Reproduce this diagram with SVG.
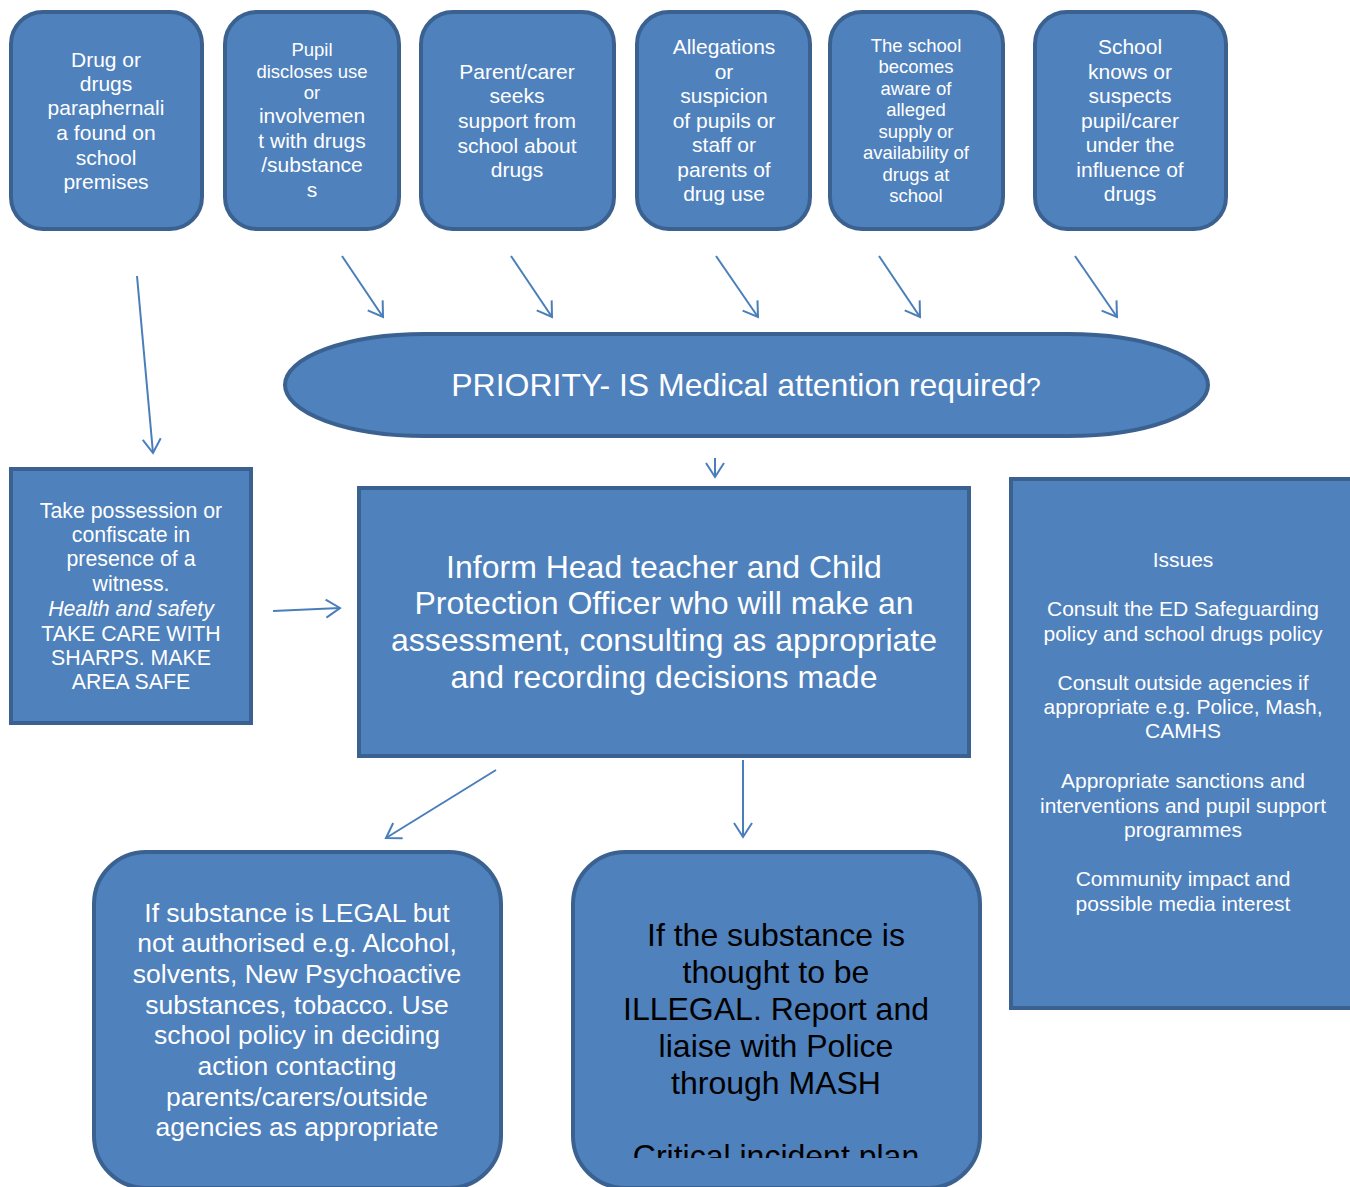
<svg xmlns="http://www.w3.org/2000/svg" width="1350" height="1187" viewBox="0 0 1350 1187">
<style>
.box{fill:#4F81BD;stroke:#3A6190;stroke-width:4}
.t{font-family:"Liberation Sans",Arial,sans-serif;fill:#fff;text-anchor:middle}
.k{fill:#000}
.c{fill:none;stroke:#4A7EBB;stroke-width:2}
</style>
<defs>
<marker id="ah" markerWidth="20" markerHeight="20" refX="16" refY="10" orient="auto" markerUnits="userSpaceOnUse">
<path d="M2,1 L16,10 L2,19" fill="none" stroke="#4A7EBB" stroke-width="2"/>
</marker>
<clipPath id="clipIll"><rect x="572" y="851" width="410" height="307"/></clipPath>
</defs>
<rect width="1350" height="1187" fill="#fff"/>

<g id="n1">
<rect class="box" x="11" y="12" width="191" height="217" rx="32"/>
<text class="t" font-size="21" x="106"><tspan y="67">Drug or</tspan><tspan x="106" y="91">drugs</tspan><tspan x="106" y="115">paraphernali</tspan><tspan x="106" y="140">a found on</tspan><tspan x="106" y="165">school</tspan><tspan x="106" y="189">premises</tspan></text>
</g>
<g id="n2">
<rect class="box" x="225" y="12" width="174" height="217" rx="32"/>
<text class="t" x="312"><tspan font-size="18.5" y="56">Pupil</tspan><tspan font-size="18.5" x="312" y="78">discloses use</tspan><tspan font-size="18.5" x="312" y="99">or</tspan><tspan font-size="21" x="312" y="123">involvemen</tspan><tspan font-size="21" x="312" y="148">t with drugs</tspan><tspan font-size="21" x="312" y="172">/substance</tspan><tspan font-size="21" x="312" y="197">s</tspan></text>
</g>
<g id="n3">
<rect class="box" x="421" y="12" width="193" height="217" rx="32"/>
<text class="t" font-size="21" x="517"><tspan y="79">Parent/carer</tspan><tspan x="517" y="103">seeks</tspan><tspan x="517" y="128">support from</tspan><tspan x="517" y="153">school about</tspan><tspan x="517" y="177">drugs</tspan></text>
</g>
<g id="n4">
<rect class="box" x="637" y="12" width="173" height="217" rx="32"/>
<text class="t" font-size="21" x="724"><tspan y="54">Allegations</tspan><tspan x="724" y="79">or</tspan><tspan x="724" y="103">suspicion</tspan><tspan x="724" y="128">of pupils or</tspan><tspan x="724" y="152">staff or</tspan><tspan x="724" y="177">parents of</tspan><tspan x="724" y="201">drug use</tspan></text>
</g>
<g id="n5">
<rect class="box" x="830" y="12" width="173" height="217" rx="32"/>
<text class="t" font-size="18.5" x="916"><tspan y="52">The school</tspan><tspan x="916" y="73">becomes</tspan><tspan x="916" y="95">aware of</tspan><tspan x="916" y="116">alleged</tspan><tspan x="916" y="138">supply or</tspan><tspan x="916" y="159">availability of</tspan><tspan x="916" y="181">drugs at</tspan><tspan x="916" y="202">school</tspan></text>
</g>
<g id="n6">
<rect class="box" x="1035" y="12" width="191" height="217" rx="32"/>
<text class="t" font-size="21" x="1130"><tspan y="54">School</tspan><tspan x="1130" y="79">knows or</tspan><tspan x="1130" y="103">suspects</tspan><tspan x="1130" y="128">pupil/carer</tspan><tspan x="1130" y="152">under the</tspan><tspan x="1130" y="177">influence of</tspan><tspan x="1130" y="201">drugs</tspan></text>
</g>

<g id="priority">
<rect class="box" x="285" y="334" width="923" height="102" rx="140" ry="51"/>
<text class="t" font-size="32" x="746" y="396">PRIORITY- IS Medical attention required<tspan font-size="26">?</tspan></text>
</g>

<g id="take">
<rect class="box" x="11" y="469" width="240" height="254"/>
<text class="t" font-size="21.3" x="131"><tspan y="518">Take possession or</tspan><tspan x="131" y="542">confiscate in</tspan><tspan x="131" y="566">presence of a</tspan><tspan x="131" y="591">witness.</tspan><tspan x="131" y="616" font-style="italic">Health and safety</tspan><tspan x="131" y="641">TAKE CARE WITH</tspan><tspan x="131" y="665">SHARPS. MAKE</tspan><tspan x="131" y="689">AREA SAFE</tspan></text>
</g>

<g id="inform">
<rect class="box" x="359" y="488" width="610" height="268"/>
<text class="t" font-size="32" x="664"><tspan y="578">Inform Head teacher and Child</tspan><tspan x="664" y="614">Protection Officer who will make an</tspan><tspan x="664" y="651">assessment, consulting as appropriate</tspan><tspan x="664" y="688">and recording decisions made</tspan></text>
</g>

<g id="issues">
<rect class="box" x="1011" y="479" width="350" height="529"/>
<text class="t" font-size="21" x="1183"><tspan y="567">Issues</tspan><tspan x="1183" y="616">Consult the ED Safeguarding</tspan><tspan x="1183" y="641">policy and school drugs policy</tspan><tspan x="1183" y="690">Consult outside agencies if</tspan><tspan x="1183" y="714">appropriate e.g. Police, Mash,</tspan><tspan x="1183" y="738">CAMHS</tspan><tspan x="1183" y="788">Appropriate sanctions and</tspan><tspan x="1183" y="813">interventions and pupil support</tspan><tspan x="1183" y="837">programmes</tspan><tspan x="1183" y="886">Community impact and</tspan><tspan x="1183" y="911">possible media interest</tspan></text>
</g>

<g id="legal">
<rect class="box" x="94" y="852" width="407" height="336" rx="52"/>
<text class="t" font-size="26.5" x="297"><tspan y="922">If substance is LEGAL but</tspan><tspan x="297" y="952">not authorised e.g. Alcohol,</tspan><tspan x="297" y="983">solvents, New Psychoactive</tspan><tspan x="297" y="1014">substances, tobacco. Use</tspan><tspan x="297" y="1044">school policy in deciding</tspan><tspan x="297" y="1075">action contacting</tspan><tspan x="297" y="1106">parents/carers/outside</tspan><tspan x="297" y="1136">agencies as appropriate</tspan></text>
</g>

<g id="illegal">
<rect class="box" x="573" y="852" width="407" height="336" rx="52"/>
<text class="t k" font-size="32" x="776" clip-path="url(#clipIll)"><tspan y="946">If the substance is</tspan><tspan x="776" y="983">thought to be</tspan><tspan x="776" y="1020">ILLEGAL. Report and</tspan><tspan x="776" y="1057">liaise with Police</tspan><tspan x="776" y="1094">through MASH</tspan><tspan x="776" y="1167">Critical incident plan</tspan></text>
</g>

<g id="connectors">
<line class="c" x1="137" y1="276" x2="153" y2="453" marker-end="url(#ah)"/>
<line class="c" x1="342" y1="256" x2="383" y2="317" marker-end="url(#ah)"/>
<line class="c" x1="511" y1="256" x2="552" y2="317" marker-end="url(#ah)"/>
<line class="c" x1="716" y1="256" x2="758" y2="317" marker-end="url(#ah)"/>
<line class="c" x1="879" y1="256" x2="920" y2="317" marker-end="url(#ah)"/>
<line class="c" x1="1075" y1="256" x2="1117" y2="317" marker-end="url(#ah)"/>
<line class="c" x1="715" y1="458" x2="715" y2="477" marker-end="url(#ah)"/>
<line class="c" x1="273" y1="611" x2="340" y2="608" marker-end="url(#ah)"/>
<line class="c" x1="496" y1="770" x2="386" y2="838" marker-end="url(#ah)"/>
<line class="c" x1="743" y1="760" x2="743" y2="837" marker-end="url(#ah)"/>
</g>
</svg>
